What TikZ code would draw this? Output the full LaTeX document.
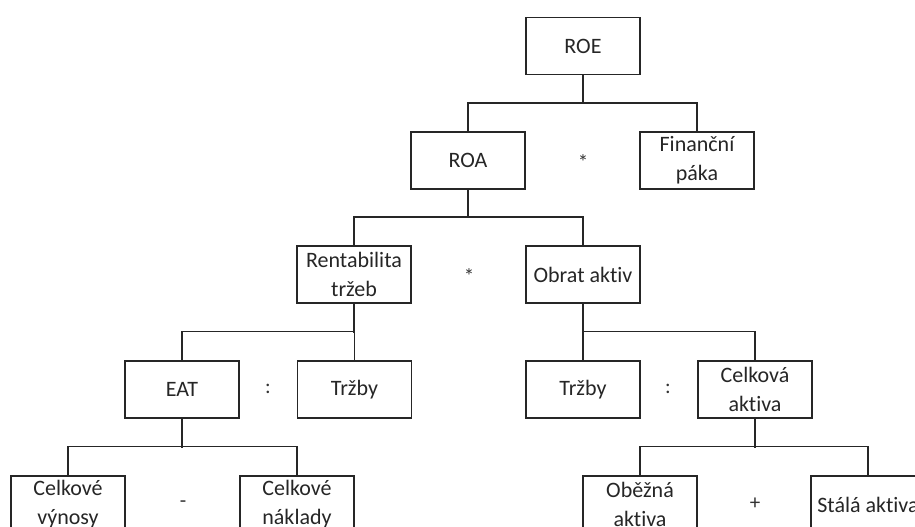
\documentclass[tikz,border=0pt]{standalone}
\usepackage{fontspec}
\setmainfont{Carlito}[Ligatures=NoCommon]
\begin{document}
\begin{tikzpicture}[x=1pt,y=-1pt,
  box/.style={draw=black!85, line width=1.2pt, minimum width=114pt, minimum height=57pt,
    inner sep=0pt, align=center, font=\fontsize{22}{29}\selectfont, text=black!85},
  op/.style={font=\fontsize{21}{24}\selectfont, text=black!80},
  conn/.style={draw=black!85, line width=1.2pt}]
\useasboundingbox (0,0) rectangle (915,527);
\fill[white] (0,0) rectangle (915,527);
\clip (0,0) rectangle (915,527);
\node[box] (ROE) at (583,46) {ROE};
\node[box] (ROA) at (468,160.5) {ROA};
\node[box] (FIN) at (697,160.5) {Finanční\\páka};
\node[box] (RENT) at (354,274.5) {Rentabilita\\tržeb};
\node[box] (OBRAT) at (583,274.5) {Obrat aktiv};
\node[box] (EAT) at (182,389.5) {EAT};
\node[box] (TRZ1) at (354.5,389.5) {Tržby};
\node[box] (TRZ2) at (583,389.5) {Tržby};
\node[box] (CA) at (755,389.5) {Celková\\aktiva};
\node[box] (CV) at (68,504.5) {Celkové\\výnosy};
\node[box] (CN) at (297,504.5) {Celkové\\náklady};
\node[box] (OA) at (640,504.5) {Oběžná\\aktiva};
\node[box] (SA) at (868,504.5) {Stálá aktiva};
\node[op] (o1) at (583,162) {*};
\node[op] (o2) at (469,276) {*};
\node[op] (o3) at (268,389) {:};
\node[op] (o4) at (668,389) {:};
\node[op] (o5) at (183,504) {-};
\node[op] (o6) at (755,504) {+};
\path[conn] (ROE.south) -- ++(0,28.5);
\path[conn] (ROA.north) -- ++(0,-28.5) -| (FIN.north);
\path[conn] (ROA.south) -- ++(0,28.5);
\path[conn] (RENT.north) -- ++(0,-28.5) -| (OBRAT.north);
\path[conn] (RENT.south) -- ++(0,29);
\path[conn] (EAT.north) -- ++(0,-29) -| (TRZ1.north);
\path[conn] (OBRAT.south) -- ++(0,29);
\path[conn] (TRZ2.north) -- ++(0,-29) -| (CA.north);
\path[conn] (EAT.south) -- ++(0,29);
\path[conn] (CV.north) -- ++(0,-29) -| (CN.north);
\path[conn] (CA.south) -- ++(0,29);
\path[conn] (OA.north) -- ++(0,-29) -| (SA.north);
\end{tikzpicture}
\end{document}
